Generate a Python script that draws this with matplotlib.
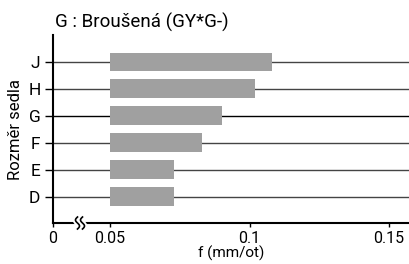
import matplotlib
matplotlib.use("Agg")
import matplotlib.pyplot as plt
import numpy as np

categories = ["D", "E", "F", "G", "H", "J"]
f_start = [0.05, 0.05, 0.05, 0.05, 0.05, 0.05]
f_end = [0.073, 0.073, 0.083, 0.090, 0.102, 0.108]
xticks = [0, 0.05, 0.1, 0.15]
xtick_labels = ["0", "0.05", "0.1", "0.15"]

plt.rcParams['font.family'] = ['Roboto', 'DejaVu Sans']

BRK = 0.05
K = 57 / 139.0
def fwd(x):
    x = np.asarray(x, dtype=float)
    return np.where(x >= BRK, x, BRK - (BRK - x) * K)
def inv(x):
    x = np.asarray(x, dtype=float)
    return np.where(x >= BRK, x, BRK - (BRK - x) / K)

AX_BOTTOM = 223
fig = plt.figure(figsize=(4.09, 2.64), dpi=100)
ax = fig.add_axes([53/409, 1 - AX_BOTTOM/264, 1 - 53/409, (AX_BOTTOM - 35)/264])
ax.set_xscale('function', functions=(fwd, inv))

y = np.arange(len(categories))
for i in y:
    ax.axhline(i, color='black' if categories[i] == 'G' else '#444444', lw=1.0, zorder=1)
ax.barh(y, np.array(f_end) - np.array(f_start), left=f_start, height=0.7,
        color='#a0a0a0', zorder=2)

ax.set_xlim(0, 0.1572)
ax.set_ylim(-0.98, 6.0)
ax.set_yticks(y)
ax.set_yticklabels(categories, fontsize=12.5)
ax.set_xticks(xticks)
ax.set_xticklabels(xtick_labels, fontsize=11.5)
ax.tick_params(axis='y', direction='out', length=6, width=1, pad=3)
ax.tick_params(axis='x', direction='out', length=3, width=1, pad=2.5)
ax.spines['top'].set_visible(False)
ax.spines['right'].set_visible(False)
ax.spines['left'].set_linewidth(1.5)
ax.spines['bottom'].set_linewidth(1.5)
ax.set_ylabel("Rozměr sedla", fontsize=12, labelpad=4)
ax.set_xlabel("f (mm/ot)", fontsize=11, labelpad=0)
fig.text(55/409, 1 - 22/264, "G : Broušená (GY*G-)", fontsize=13.5, va='center', ha='left')

# axis break marker
t = np.linspace(-1, 1, 30)
for color, lw in (('white', 4), ('black', 1.2)):
    for dx in (-2.5, 2.5):
        xs = 80 + dx + 2.0 * np.sin(t * np.pi)
        ys = AX_BOTTOM + t * 6
        fig.add_artist(plt.Line2D(xs / 409, 1 - ys / 264, color=color, lw=lw,
                                  transform=fig.transFigure))

fig.savefig("out.png", dpi=100)
